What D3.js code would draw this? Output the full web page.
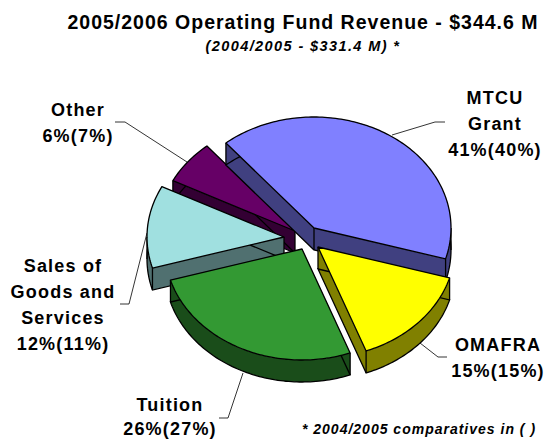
<!DOCTYPE html>
<meta charset="utf-8">
<style>
	html, body { margin: 0; padding: 0; background: #fff; }
	svg { display: block; }
	text { font-family: "Liberation Sans", Arial, sans-serif; font-weight: bold; fill: #000; text-anchor: middle; }
	.lab { font-size: 18px; letter-spacing: 1.2px; }
</style>
<body>
<svg id="chart" width="545" height="439"></svg>
<script src="https://d3js.org/d3.v7.min.js"></script>
<script>
	// values, clockwise from the MTCU slice
	// slice sizes are measured from the drawn angles, the labels show them rounded
	var categories = ["MTCU", "OMAFRA", "Tuition", "Sales", "Other"];
	var share2006 = [40.6, 14.8, 26.2, 12, 6.4];
	var share2005 = [40, 15, 27, 11, 7];
	var labelNames = [["MTCU", "Grant"], ["OMAFRA"], ["Tuition"], ["Sales of", "Goods and", "Services"], ["Other"]];

	// styling and layout, same order as categories
	var topColors = ["#8080ff", "#ffff00", "#339933", "#a0e0e0", "#660066"];
	var sideColors = ["#404080", "#808000", "#1a4d1a", "#507070", "#330033"];
	var drawOrder = [4, 3, 0, 1, 2];
	var explodeX = [10, 14, -2, -20, -9];
	var explodeY = [-10, 9, 11, -1, -7];
	var labelX = [495, 498, 170, 63, 78];
	var labelY = [[104, 130, 156], [351, 377], [411, 435], [272, 298, 324, 350], [116, 142]];
	var leaders = [
		[[445, 122], [435, 122], [392, 135]],
		[[447, 357], [438, 357], [420, 343]],
		[[219, 418], [228, 418], [243, 373]],
		[[120, 304], [129, 304], [147, 233]],
		[[115, 122], [125, 122], [187, 162]]
	];

	var svg = d3.select("#chart"),
		cx = 304, cy = 238,
		rx = 137, ry = 111,
		depth = 22;

	var pie = d3.pie()
		.sort(null)
		.startAngle(-40 * Math.PI / 180)
		.endAngle(320 * Math.PI / 180);

	var slices = pie(share2006);

	var lineGen = d3.line();

	// flat point on the tilted pie, angle clockwise from 12 o'clock
	function rim(a) {
		return [rx * Math.sin(a), -ry * Math.cos(a)];
	}

	function pushDown(p) {
		return [p[0], p[1] + depth];
	}

	// leader lines go under the pie
	svg.selectAll(".leader")
		.data(leaders)
		.enter().append("path")
		.attr("class", "leader")
		.attr("d", lineGen)
		.attr("fill", "none")
		.attr("stroke", "#000")
		.attr("stroke-width", 0.8);

	drawOrder.forEach(function(i) {
		var s = slices[i];
		var n = Math.ceil((s.endAngle - s.startAngle) / 0.02);
		var edge = d3.range(n + 1).map(function(k) {
			return rim(s.startAngle + (s.endAngle - s.startAngle) * k / n);
		});
		var outline = [[0, 0]].concat(edge);
		var first = edge[0], last = edge[n];

		var g = svg.append("g")
			.attr("transform", "translate(" + (cx + explodeX[i]) + "," + (cy + explodeY[i]) + ")");

		// walls: the two straight cuts and the curved rim
		var walls = [
			[[0, 0], first, pushDown(first), [0, depth]],
			[[0, 0], last, pushDown(last), [0, depth]],
			edge.concat(edge.map(pushDown).reverse())
		];
		walls.forEach(function(w) {
			g.append("path")
				.attr("d", lineGen(w) + "Z")
				.attr("fill", sideColors[i])
				.attr("stroke", "none");
		});

		// bottom outline and the vertical corners
		g.append("path")
			.attr("d", lineGen(outline) + "Z")
			.attr("transform", "translate(0," + depth + ")")
			.attr("fill", "none")
			.attr("stroke", "#000")
			.attr("stroke-width", 1.3);

		var corners = [[0, 0], first, last];
		[Math.PI / 2, 3 * Math.PI / 2].forEach(function(a) {
			if (a > s.startAngle && a < s.endAngle) corners.push(rim(a));
		});
		corners.forEach(function(p) {
			g.append("line")
				.attr("x1", p[0]).attr("y1", p[1])
				.attr("x2", p[0]).attr("y2", p[1] + depth)
				.attr("stroke", "#000")
				.attr("stroke-width", 1.3);
		});

		g.append("path")
			.attr("d", lineGen(outline) + "Z")
			.attr("fill", topColors[i])
			.attr("stroke", "#000")
			.attr("stroke-width", 1.3)
			.attr("stroke-linejoin", "round");
	});

	// slice labels
	categories.forEach(function(c, i) {
		var lines = labelNames[i].concat([Math.round(share2006[i]) + "%(" + share2005[i] + "%)"]);
		svg.selectAll(".l" + i)
			.data(lines)
			.enter().append("text")
			.attr("class", "lab l" + i)
			.attr("x", labelX[i])
			.attr("y", function(d, k) { return labelY[i][k]; })
			.text(function(d) { return d; });
	});

	svg.append("text")
		.attr("x", 303).attr("y", 29)
		.style("font-size", "19.5px")
		.style("letter-spacing", "1px")
		.text("2005/2006 Operating Fund Revenue - $344.6 M");

	svg.append("text")
		.attr("x", 303).attr("y", 51)
		.style("font-size", "14.5px")
		.style("font-style", "italic")
		.style("letter-spacing", "1.4px")
		.text("(2004/2005 - $331.4 M) *");

	svg.append("text")
		.attr("x", 419).attr("y", 434)
		.style("font-size", "14px")
		.style("font-style", "italic")
		.style("letter-spacing", "1px")
		.text("* 2004/2005 comparatives in ( )");
</script>
</body>
